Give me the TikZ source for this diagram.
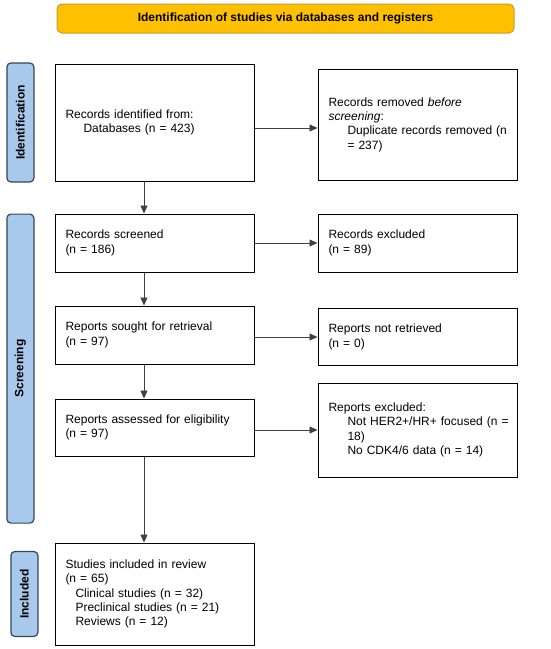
\documentclass[tikz,border=0pt]{standalone}
\usepackage{fontspec}
\setmainfont{Liberation Sans}
\usepackage{xcolor}
\usepackage{tikz}
\usetikzlibrary{shapes.geometric, arrows.meta, positioning}

\definecolor{headfill}{HTML}{FFC000}
\definecolor{headdraw}{HTML}{C99A2E}
\definecolor{phasefill}{HTML}{A8C8EC}
\definecolor{phasedraw}{HTML}{34465C}

\begin{document}
\begin{tikzpicture}[
        node distance=32pt and 63pt,
        header/.style={rectangle, draw=headdraw, line width=1pt, fill=headfill, rounded corners=5pt, minimum width=457pt, minimum height=29pt, font=\bfseries\fontsize{12pt}{14pt}\selectfont},
        recbox/.style={rectangle, draw=black, line width=1pt, text width=178pt, inner xsep=10.5pt, inner ysep=0pt, align=left, font=\fontsize{12pt}{14.3pt}\selectfont},
        phase/.style={rectangle, draw=phasedraw, line width=1.2pt, fill=phasefill, rounded corners=4pt, rotate=90, minimum height=27pt, inner sep=0pt, font=\bfseries\fontsize{12pt}{14pt}\selectfont},
        seta/.style={line width=0.8pt, draw=black!75, -{Triangle[length=8pt,width=7pt]}}
    ]
        \useasboundingbox (0,0) rectangle (550pt,-649pt);

        % Cabeçalho
        \node[header] (title) at (285.5pt,-18.5pt) {Identification of studies via databases and registers};

        % Caixas do fluxo
        \node[recbox, minimum height=117pt] (identified) at (154.5pt,-122.5pt) {Records identified from:\\ \hspace*{18pt}Databases (n = 423)};
        \node[recbox, minimum height=111pt, right=of identified, yshift=-2pt] (removed) {Records removed \textit{before}\\ \textit{screening}:\\ \hspace*{19pt}\mbox{Duplicate records removed (n}\\ \hspace*{19pt}= 237)};
        \node[recbox, minimum height=58pt, below=of identified] (screened) {Records screened\\ (n = 186)};
        \node[recbox, minimum height=58pt, right=of screened] (excluded) {Records excluded\\ (n = 89)};
        \node[recbox, minimum height=58pt, below=33pt of screened] (sought) {Reports sought for retrieval\\ (n = 97)};
        \node[recbox, minimum height=57pt, right=of sought, yshift=-2pt] (notretrieved) {Reports not retrieved\\ (n = 0)};
        \node[recbox, minimum height=57pt, below=34pt of sought] (assessed) {Reports assessed for eligibility\\ (n = 97)};
        \node[recbox, minimum height=94pt, right=of assessed, yshift=-2.5pt] (repexcluded) {Reports excluded:\\ \hspace*{19pt}\mbox{Not HER2+/HR+ focused (n =}\\ \hspace*{19pt}18)\\ \hspace*{19pt}No CDK4/6 data (n = 14)};
        \node[recbox, minimum height=102pt, below=86pt of assessed] (included) {Studies included in review\\ (n = 65)\\ \hspace*{10pt}Clinical studies (n = 32)\\ \hspace*{10pt}Preclinical studies (n = 21)\\ \hspace*{10pt}Reviews (n = 12)};

        % Fases
        \node[phase, minimum width=119pt, anchor=south] (identlab) at ([xshift=-20pt]identified.west) {Identification};
        \node[phase, minimum width=309pt, anchor=south east] (screenlab) at ([xshift=-20pt]screened.north west) {Screening};
        \node[phase, minimum width=85pt, anchor=south] (inclab) at ([xshift=-16pt]included.west) {Included};

        % Conexões
        \draw[seta] ([yshift=-3.5pt]removed.west -| identified.east) -- ([yshift=-3.5pt]removed.west);
        \draw[seta] (excluded.west -| screened.east) -- (excluded.west);
        \draw[seta] (notretrieved.west -| sought.east) -- (notretrieved.west);
        \draw[seta] (repexcluded.west -| assessed.east) -- (repexcluded.west);
        \draw[seta] ([xshift=-10.5pt]identified.south) -- ([xshift=-10.5pt]screened.north);
        \draw[seta] ([xshift=-10.5pt]screened.south) -- ([xshift=-10.5pt]sought.north);
        \draw[seta] ([xshift=-10.5pt]sought.south) -- ([xshift=-10.5pt]assessed.north);
        \draw[seta] ([xshift=-10.5pt]assessed.south) -- ([xshift=-10.5pt]included.north);
    \end{tikzpicture}
\end{document}
